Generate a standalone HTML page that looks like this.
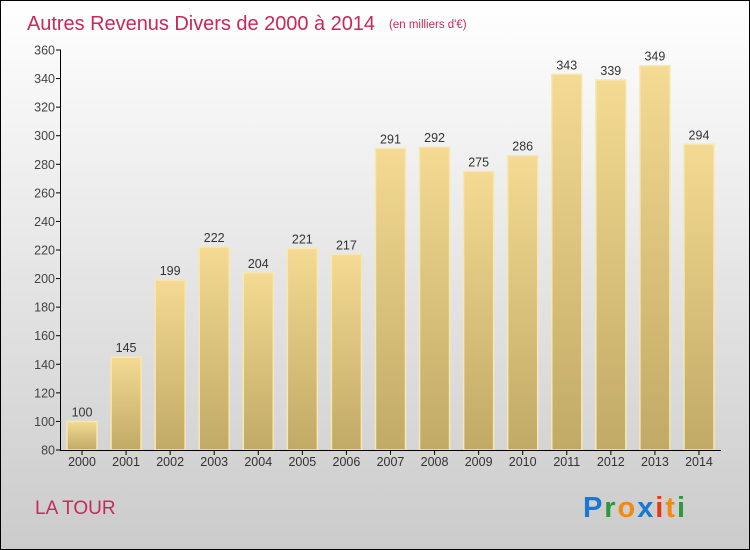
<!DOCTYPE html>
<html><head><meta charset="utf-8"><style>
body{margin:0;width:750px;height:550px;overflow:hidden;font-family:"Liberation Sans",sans-serif}
svg{display:block}
</style></head><body>
<svg width="750" height="550">
<defs>
<linearGradient id="bg" x1="0" y1="0" x2="0" y2="1"><stop offset="0" stop-color="#ffffff"/><stop offset="1" stop-color="#cbcbcb"/></linearGradient>
<linearGradient id="bar" x1="0" y1="0" x2="0" y2="1"><stop offset="0" stop-color="#f4da92"/><stop offset="1" stop-color="#c1aa66"/></linearGradient>
</defs>
<rect x="0.5" y="0.5" width="749" height="549" fill="url(#bg)" stroke="#000"/>
<text x="27" y="30" font-size="20" fill="#c8285a" textLength="348">Autres Revenus Divers de 2000 à 2014</text>
<text x="389" y="28" font-size="11.5" fill="#c8285a">(en milliers d'€)</text>
<g id="plot"></g>
<text x="35" y="514" font-size="19" fill="#c8285a">LA TOUR</text>
<g font-size="29" font-weight="bold" font-family="'Liberation Sans',sans-serif">
<text x="583" y="517" textLength="102"><tspan fill="#1a78d0">P</tspan><tspan fill="#2a9a3a">r</tspan><tspan fill="#f08a10">o</tspan><tspan fill="#1a78d0">x</tspan><tspan fill="#e03a1a">i</tspan><tspan fill="#f08a10">t</tspan><tspan fill="#2a9a3a">i</tspan></text>
</g>
</svg>
<script>
const years=["2000","2001","2002","2003","2004","2005","2006","2007","2008","2009","2010","2011","2012","2013","2014"];
const values=[100,145,199,222,204,221,217,291,292,275,286,343,339,349,294];
const yTicks=[80,100,120,140,160,180,200,220,240,260,280,300,320,340,360];
const NS="http://www.w3.org/2000/svg";
const g=document.getElementById('plot');
const y=v=>450-(v-80)*400/280;
const x=i=>67+i*44.07;
function mk(t,a,txt){const e=document.createElementNS(NS,t);for(const k in a)e.setAttribute(k,a[k]);if(txt!==undefined)e.textContent=txt;g.appendChild(e);return e;}
yTicks.forEach(v=>{
 const l=mk('line',{x1:56,x2:61,y1:y(v),y2:y(v),stroke:'#000'});
 
 
 const t=mk('text',{x:55,y:y(v)+4.5,'font-size':12.5,fill:'#444','text-anchor':'end'},v);
 
 
});
values.forEach((v,i)=>{
 const b=mk('rect',{x:x(i),y:y(v),width:30,height:450-y(v),fill:'url(#bar)',stroke:'#f7e7b0','stroke-width':1.5});
 
 
 const t=mk('text',{x:x(i)+15,y:y(v)-5,'font-size':12.5,fill:'#333','text-anchor':'middle'},v);
 
 
 const tk=mk('line',{x1:x(i)+15,x2:x(i)+15,y1:450,y2:455,stroke:'#000'});
 
 
 const xl=mk('text',{x:x(i)+15,y:466,'font-size':12.5,fill:'#333','text-anchor':'middle'},years[i]);
 
 
});
const ya=mk('line',{x1:60.5,x2:60.5,y1:50,y2:450,stroke:'#000'});


const xa=mk('line',{x1:60,x2:721,y1:450.5,y2:450.5,stroke:'#000'});


</script>
</body></html>
